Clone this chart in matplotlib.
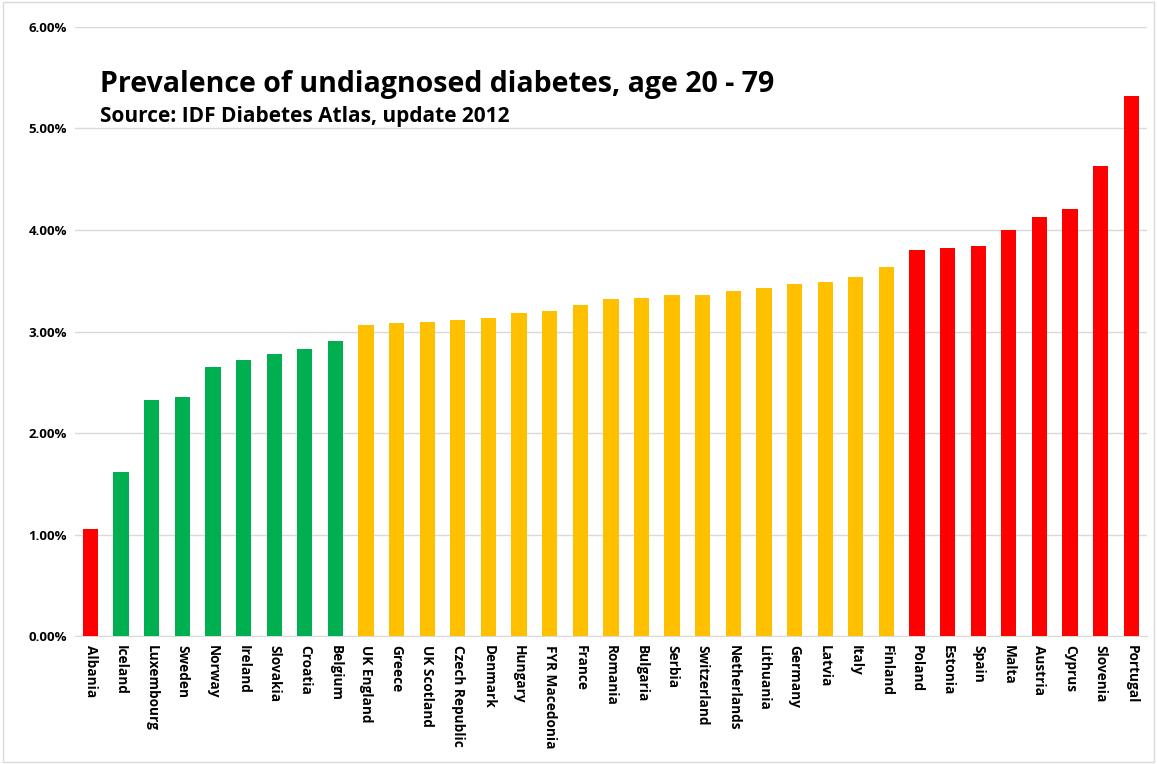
import matplotlib.pyplot as plt
from matplotlib.ticker import FuncFormatter

countries = ['Albania', 'Iceland', 'Luxembourg', 'Sweden', 'Norway', 'Ireland', 'Slovakia',
             'Croatia', 'Belgium', 'UK England', 'Greece', 'UK Scotland', 'Czech Republic',
             'Denmark', 'Hungary', 'FYR Macedonia', 'France', 'Romania', 'Bulgaria', 'Serbia',
             'Switzerland', 'Netherlands', 'Lithuania', 'Germany', 'Latvia', 'Italy', 'Finland',
             'Poland', 'Estonia', 'Spain', 'Malta', 'Austria', 'Cyprus', 'Slovenia', 'Portugal']
values = [1.06, 1.62, 2.33, 2.36, 2.65, 2.72, 2.78,
          2.83, 2.91, 3.06, 3.08, 3.09, 3.11,
          3.13, 3.18, 3.20, 3.26, 3.32, 3.33, 3.36,
          3.36, 3.40, 3.43, 3.47, 3.49, 3.54, 3.64,
          3.80, 3.82, 3.84, 4.00, 4.13, 4.21, 4.63, 5.32]
groups = ['r'] + ['g'] * 8 + ['y'] * 18 + ['r'] * 8

cmap = {'r': '#FF0000', 'g': '#00B050', 'y': '#FFC000'}
colors = [cmap[g] for g in groups]

plt.rcParams['font.family'] = ['Open Sans', 'DejaVu Sans']

fig = plt.figure(figsize=(11.57, 7.64), dpi=100)
ax = fig.add_axes([0.065, 0.167, 0.926, 0.798])

x = range(len(countries))
ax.bar(x, values, width=0.5, color=colors, zorder=3)

ax.set_ylim(0, 6)
ax.set_xlim(-0.5, len(countries) - 0.5)
ax.set_yticks([0, 1, 2, 3, 4, 5, 6])
ax.yaxis.set_major_formatter(FuncFormatter(lambda v, p: '%.2f%%' % v))
ax.grid(axis='y', color='#D9D9D9', linewidth=1, zorder=0)
ax.set_xticks(list(x))
ax.set_xticklabels(countries, rotation=-90, fontsize=9.8, fontweight='bold', va='top', ha='center')
for lab in ax.get_yticklabels():
    lab.set_fontweight('bold')
    lab.set_fontsize(9.5)
ax.tick_params(length=0, pad=6)
for s in ['top', 'right', 'left']:
    ax.spines[s].set_visible(False)
ax.spines['bottom'].set_color('#D9D9D9')

fig.text(0.086, 0.88, 'Prevalence of undiagnosed diabetes, age 20 - 79',
         fontsize=20.5, fontweight='bold')
fig.text(0.086, 0.84, 'Source: IDF Diabetes Atlas, update 2012',
         fontsize=15, fontweight='bold')

border = plt.Rectangle((0.003, 0.003), 0.994, 0.994, transform=fig.transFigure,
                       fill=False, edgecolor='#D9D9D9', linewidth=1)
fig.patches.append(border)

plt.savefig('out.png')
